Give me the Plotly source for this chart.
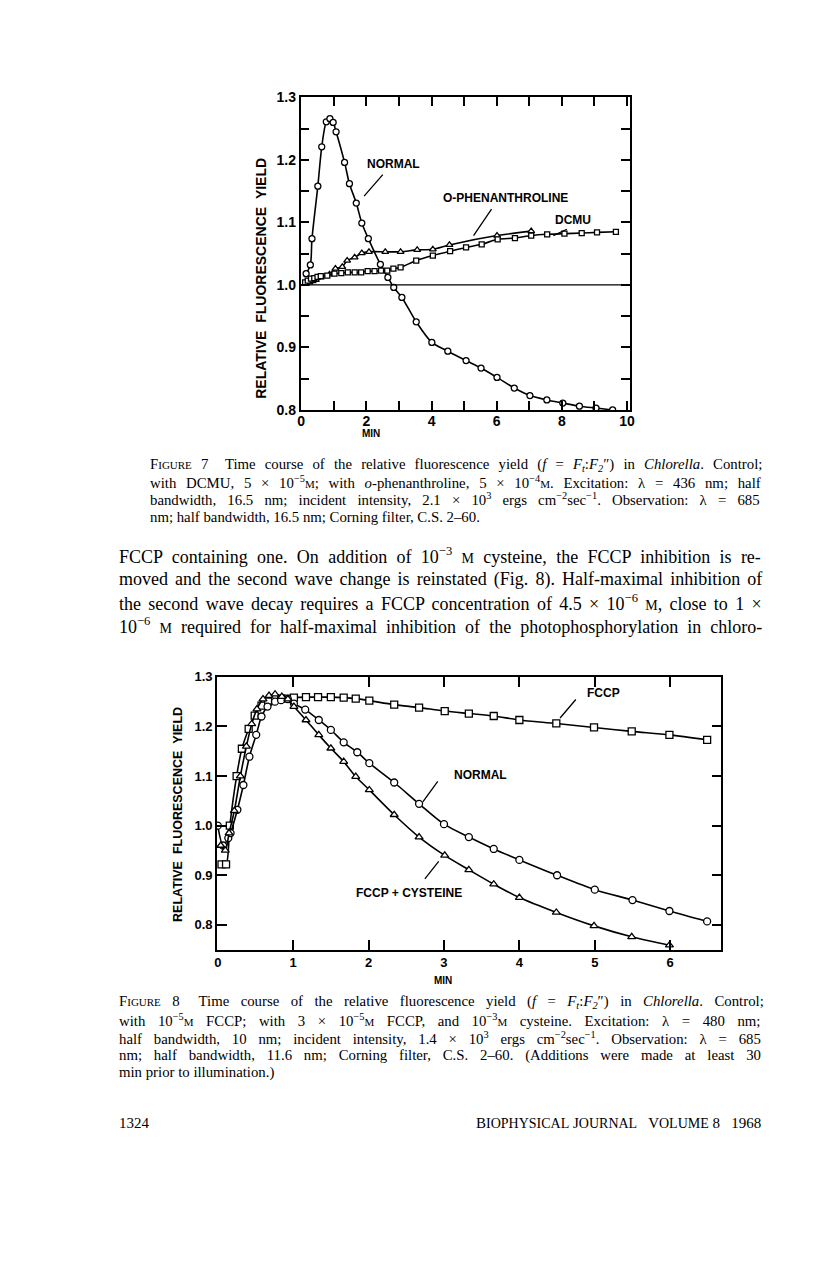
import re
import math
import plotly.graph_objects as go

# ---------------- Figure 7 data (time in min, relative fluorescence yield) ----------------
f7_normal_x = [0.15, 0.28, 0.33, 0.51, 0.63, 0.77, 0.88, 0.98, 1.07, 1.33, 1.48, 1.69, 1.86, 2.06,
               2.43, 2.66, 2.84, 3.09, 3.53, 4.01, 4.50, 5.06, 5.52, 6.01, 6.54, 7.02, 7.54, 8.03,
               8.54, 9.05, 9.56]
f7_normal_y = [1.018, 1.032, 1.074, 1.158, 1.221, 1.261, 1.266, 1.260, 1.245, 1.196, 1.162, 1.131,
               1.099, 1.074, 1.033, 1.012, 0.996, 0.980, 0.941, 0.908, 0.894, 0.879, 0.867, 0.852,
               0.835, 0.823, 0.816, 0.811, 0.806, 0.803, 0.800]

f7_phen_x = [0.15, 0.25, 0.35, 0.45, 0.60, 0.87, 1.05, 1.26, 1.41, 1.64, 1.86, 2.08, 2.58, 3.05,
             3.56, 4.04, 4.55, 6.01, 7.06]
f7_phen_y = [1.002, 1.004, 1.006, 1.008, 1.012, 1.017, 1.026, 1.029, 1.039, 1.044, 1.051, 1.053,
             1.053, 1.053, 1.056, 1.057, 1.064, 1.079, 1.086]

f7_dcmu_x = [0.12, 0.20, 0.30, 0.40, 0.50, 0.60, 0.80, 1.02, 1.23, 1.43, 1.64, 1.84, 2.04, 2.25,
             2.45, 2.64, 2.83, 3.05, 3.53, 4.04, 4.57, 5.06, 5.54, 6.03, 6.56, 7.06, 7.55, 8.08,
             8.61, 9.08, 9.66]
f7_dcmu_y = [1.004, 1.007, 1.010, 1.011, 1.013, 1.014, 1.015, 1.018, 1.019, 1.020, 1.020, 1.020,
             1.022, 1.022, 1.023, 1.023, 1.026, 1.028, 1.039, 1.047, 1.054, 1.060, 1.065, 1.073,
             1.075, 1.079, 1.081, 1.082, 1.083, 1.084, 1.085]

f7_xticks = [0, 1, 2, 3, 4, 5, 6, 7, 8, 9, 10]
f7_xticktext = ["0", "", "2", "", "4", "", "6", "", "8", "", "10"]
f7_yticks = [0.80, 0.85, 0.90, 0.95, 1.00, 1.05, 1.10, 1.15, 1.20, 1.25, 1.30]
f7_yticktext = ["0.8", "", "0.9", "", "1.0", "", "1.1", "", "1.2", "", "1.3"]

# ---------------- Figure 8 data ----------------
f8_fccp_x = [0.05, 0.11, 0.16, 0.25, 0.32, 0.41, 0.49, 0.58, 0.67, 0.76, 0.84, 0.93, 1.01, 1.17,
             1.33, 1.50, 1.67, 1.83, 2.01, 2.34, 2.67, 3.01, 3.33, 3.66, 4.00, 4.49, 4.99, 5.49,
             5.99, 6.49]
f8_fccp_y = [0.922, 0.922, 1.000, 1.100, 1.155, 1.195, 1.222, 1.242, 1.250, 1.256, 1.256, 1.256,
             1.258, 1.259, 1.259, 1.259, 1.258, 1.256, 1.252, 1.244, 1.238, 1.231, 1.226, 1.221,
             1.213, 1.206, 1.198, 1.190, 1.183, 1.173]

f8_normal_x = [0.00, 0.07, 0.14, 0.17, 0.26, 0.34, 0.42, 0.51, 0.58, 0.66, 0.76, 0.84, 0.93, 1.01,
               1.16, 1.34, 1.50, 1.67, 1.85, 2.01, 2.34, 2.67, 3.00, 3.33, 3.66, 4.00, 4.50, 5.00,
               5.50, 5.99, 6.49]
f8_normal_y = [1.000, 0.960, 0.975, 0.985, 1.032, 1.082, 1.139, 1.183, 1.220, 1.240, 1.250, 1.253,
               1.255, 1.246, 1.234, 1.213, 1.193, 1.168, 1.148, 1.126, 1.087, 1.044, 1.003, 0.977,
               0.953, 0.931, 0.900, 0.871, 0.850, 0.828, 0.807]

f8_cys_x = [0.04, 0.10, 0.15, 0.22, 0.30, 0.38, 0.45, 0.52, 0.60, 0.68, 0.76, 0.85, 0.93, 1.01,
            1.17, 1.34, 1.50, 1.67, 1.83, 2.01, 2.34, 2.67, 3.01, 3.33, 3.66, 4.00, 4.49, 4.99,
            5.49, 5.99]
f8_cys_y = [0.960, 0.950, 0.985, 1.030, 1.100, 1.160, 1.205, 1.235, 1.255, 1.262, 1.265, 1.260,
            1.255, 1.240, 1.213, 1.183, 1.156, 1.129, 1.099, 1.072, 1.022, 0.977, 0.940, 0.911,
            0.882, 0.855, 0.825, 0.798, 0.776, 0.759]

f8_xticks = [0, 1, 2, 3, 4, 5, 6]
f8_yticks = [0.8, 0.9, 1.0, 1.1, 1.2, 1.3]
f8_yticktext = ["0.8", "0.9", "1.0", "1.1", "1.2", "1.3"]

# ---------------- Text ----------------
CAP = 14.8    # caption font size
BODY = 18.0   # body font size
SM = '<span style="font-size:11px">'
SMB = '<span style="font-size:14px">'
cap7 = [
    f'F{SM}IGURE</span> 7&nbsp;&nbsp; Time course of the relative fluorescence yield (<i>f</i> = <i>F<sub>t</sub></i>:<i>F<sub>2</sub></i>″) in <i>Chlorella</i>. Control;',
    f'with DCMU, 5 × 10<sup>−5</sup>{SM}M</span>; with <i>o</i>-phenanthroline, 5 × 10<sup>−4</sup>{SM}M</span>. Excitation: λ = 436 nm; half',
    'bandwidth, 16.5 nm; incident intensity, 2.1 × 10<sup>3</sup> ergs cm<sup>−2</sup>sec<sup>−1</sup>. Observation: λ = 685',
    'nm; half bandwidth, 16.5 nm; Corning filter, C.S. 2–60.',
]
body = [
    f'FCCP containing one. On addition of 10<sup>−3</sup> {SMB}M</span> cysteine, the FCCP inhibition is re-',
    'moved and the second wave change is reinstated (Fig. 8). Half-maximal inhibition of',
    f'the second wave decay requires a FCCP concentration of 4.5 × 10<sup>−6</sup> {SMB}M</span>, close to 1 ×',
    f'10<sup>−6</sup> {SMB}M</span> required for half-maximal inhibition of the photophosphorylation in chloro-',
]
cap8 = [
    f'F{SM}IGURE</span> 8&nbsp;&nbsp; Time course of the relative fluorescence yield (<i>f</i> = <i>F<sub>t</sub></i>:<i>F<sub>2</sub></i>″) in <i>Chlorella</i>. Control;',
    f'with 10<sup>−5</sup>{SM}M</span> FCCP; with 3 × 10<sup>−5</sup>{SM}M</span> FCCP, and 10<sup>−3</sup>{SM}M</span> cysteine. Excitation: λ = 480 nm;',
    'half bandwidth, 10 nm; incident intensity, 1.4 × 10<sup>3</sup> ergs cm<sup>−2</sup>sec<sup>−1</sup>. Observation: λ = 685',
    'nm; half bandwidth, 11.6 nm; Corning filter, C.S. 2–60. (Additions were made at least 30',
    'min prior to illumination.)',
]
footer_left = '1324'
footer_right = f'B{SMB}IOPHYSICAL</span> J{SMB}OURNAL</span>&nbsp;&nbsp; V{SMB}OLUME</span> 8&nbsp;&nbsp; 1968'

# Page-pixel mapping (page body margin plus a small overall screenshot scale).
W, H = 800, 1252
OFF = 8
S = 0.995
def px(x): return (x / S - OFF) / W
def py(y): return 1 - (y / S - OFF) / H

SANS = "Liberation Sans"
SERIF = "Liberation Serif"

# ---- Times metrics (per 1000 em) used to justify the serif lines ----
_TW = {' ': 250, '!': 333, '"': 408, '(': 333, ')': 333, '+': 564, ',': 250, '-': 333, '.': 250,
       '/': 278, ':': 278, ';': 278, '=': 564, '?': 444, '×': 564, '−': 564, '–': 500, '″': 420,
       'λ': 500, '\u00a0': 250,
       'A': 722, 'B': 667, 'C': 667, 'D': 722, 'E': 611, 'F': 556, 'G': 722, 'H': 722, 'I': 333,
       'J': 389, 'K': 722, 'L': 611, 'M': 889, 'N': 722, 'O': 722, 'P': 556, 'Q': 722, 'R': 667,
       'S': 556, 'T': 611, 'U': 722, 'V': 722, 'W': 944, 'X': 722, 'Y': 722, 'Z': 611,
       'a': 444, 'b': 500, 'c': 444, 'd': 500, 'e': 444, 'f': 333, 'g': 500, 'h': 500, 'i': 278,
       'j': 278, 'k': 500, 'l': 278, 'm': 778, 'n': 500, 'o': 500, 'p': 500, 'q': 500, 'r': 333,
       's': 389, 't': 278, 'u': 500, 'v': 500, 'w': 722, 'x': 500, 'y': 500, 'z': 444}
for d in '0123456789':
    _TW[d] = 500

def text_width(markup, size):
    w = 0.0
    scale = [1.0]
    for tok in re.split(r'(<[^>]+>|&nbsp;)', markup):
        if not tok:
            continue
        if tok == '&nbsp;':
            w += 0.25 * size * scale[-1]
            continue
        if tok.startswith('<'):
            t = tok.lower()
            if t in ('<sup>', '<sub>'):
                scale.append(scale[-1] * 0.7)
            elif t.startswith('<span'):
                m = re.search(r'font-size:\s*([\d.]+)px', t)
                scale.append(float(m.group(1)) / size if m else scale[-1])
            elif t in ('</sup>', '</sub>', '</span>'):
                scale.pop()
            continue
        for ch in tok:
            w += _TW.get(ch, 500) / 1000.0 * size * scale[-1]
    return w

def justify(line, size, width_px):
    words = re.split(r' (?![^<]*>)', line)
    gaps = len(words) - 1
    nat = text_width(line, size)
    extra = (width_px / S - nat)
    if gaps <= 0 or extra <= 0:
        return line
    e = extra / gaps
    k = max(1, math.ceil(e / (0.25 * size * 0.95)))
    fs = e / (0.25 * k)
    pad = f'<span style="font-size:{fs:.2f}px">' + '&nbsp;' * k + '</span>'
    return (' ' + pad).join(words)

fig = go.Figure()

line_style = dict(color="black", width=1.6, shape="spline", smoothing=0.8)

def add_series(x, y, symbol, size, xa, ya):
    fig.add_trace(go.Scatter(x=x, y=y, mode="lines+markers", xaxis=xa, yaxis=ya,
                             line=line_style,
                             marker=dict(symbol=symbol, size=size, color="white",
                                         line=dict(color="black", width=1.3)),
                             showlegend=False, cliponaxis=True))

add_series(f7_normal_x, f7_normal_y, "circle", 6, "x", "y")
add_series(f7_phen_x, f7_phen_y, "triangle-up", 6, "x", "y")
add_series(f7_dcmu_x, f7_dcmu_y, "square", 5, "x", "y")

add_series(f8_fccp_x, f8_fccp_y, "square", 7, "x2", "y2")
add_series(f8_normal_x, f8_normal_y, "circle", 7, "x2", "y2")
add_series(f8_cys_x, f8_cys_y, "triangle-up", 7, "x2", "y2")

axis_common = dict(showline=True, linecolor="black", linewidth=1.6, mirror="ticks",
                   ticks="inside", tickcolor="black", tickwidth=1.6, showgrid=False,
                   zeroline=False)

fig.update_layout(
    width=W, height=H, margin=dict(l=0, r=0, t=0, b=0),
    paper_bgcolor="white", plot_bgcolor="white",
    xaxis=dict(domain=[px(299), px(630)], range=[-0.02, 10.09], anchor="y",
               tickvals=f7_xticks, ticktext=f7_xticktext, ticklen=9, ticklabelstandoff=-3,
               tickfont=dict(family=SANS, size=14, color="black", weight="bold"),
               **axis_common),
    yaxis=dict(domain=[py(405), py(90)], range=[0.8, 1.3], anchor="x",
               tickvals=f7_yticks, ticktext=f7_yticktext, ticklen=9,
               tickfont=dict(family=SANS, size=14, color="black", weight="bold"),
               **axis_common),
    xaxis2=dict(domain=[px(215), px(722)], range=[-0.01, 6.68], anchor="y2",
                tickvals=f8_xticks, ticktext=[str(v) for v in f8_xticks], ticklen=10,
                tickfont=dict(family=SANS, size=13, color="black", weight="bold"),
                **axis_common),
    yaxis2=dict(domain=[py(949), py(674)], range=[0.75, 1.3], anchor="x2",
                tickvals=f8_yticks, ticktext=f8_yticktext, ticklen=10,
                tickfont=dict(family=SANS, size=13, color="black", weight="bold"),
                **axis_common),
)

# baseline at 1.0 in figure 7
fig.add_shape(type="line", xref="x domain", yref="y", x0=0, x1=1, y0=1.0, y1=1.0,
              line=dict(color="black", width=1.3))

# ---------------- Curve labels and leader lines ----------------
def label(text, x, y, xr, yr, size=12):
    fig.add_annotation(text=f"<b>{text}</b>", x=x, y=y, xref=xr, yref=yr, showarrow=False,
                       font=dict(family=SANS, size=size, color="black"))

def leader(x, y, ax, ay, xr, yr):
    fig.add_annotation(text="", x=x, y=y, xref=xr, yref=yr, showarrow=True, arrowhead=0,
                       arrowwidth=1.3, arrowcolor="black", ax=ax, ay=ay, standoff=0, startstandoff=0)

label("NORMAL", 2.84, 1.193, "x", "y")
leader(1.93, 1.142, 20, -23, "x", "y")
label("O-PHENANTHROLINE", 6.27, 1.139, "x", "y")
leader(5.29, 1.079, 19, -28, "x", "y")
label("DCMU", 8.35, 1.104, "x", "y")
leader(7.74, 1.079, 15, -7, "x", "y")

label("FCCP", 5.11, 1.267, "x2", "y2")
leader(4.54, 1.217, 17, -20, "x2", "y2")
label("NORMAL", 3.48, 1.103, "x2", "y2")
leader(2.72, 1.048, 16, -22, "x2", "y2")
label("FCCP + CYSTEINE", 2.53, 0.865, "x2", "y2")
leader(2.93, 0.928, -15, 19, "x2", "y2")

# ---------------- Axis titles ----------------
def ptext(text, x, y, size, family=SANS, xanchor="center", angle=0, bold=True):
    t = f"<b>{text}</b>" if bold else text
    fig.add_annotation(text=t, x=px(x), y=py(y), xref="paper", yref="paper", showarrow=False,
                       xanchor=xanchor, yanchor="middle", textangle=angle,
                       font=dict(family=family, size=size, color="black"))

ptext("RELATIVE&nbsp;&nbsp;FLUORESCENCE&nbsp;&nbsp;YIELD", 259, 272, 14, angle=-90)
ptext("MIN", 370, 429, 10)
ptext("RELATIVE&nbsp;&nbsp;FLUORESCENCE&nbsp;&nbsp;YIELD", 176, 813, 12.5, angle=-90)
ptext("MIN", 442, 980, 10)

# ---------------- Captions and body text ----------------
for i, t in enumerate(cap7):
    tt = justify(t, CAP, 612 - 4) if i < len(cap7) - 1 else t
    ptext(tt, 146, 460 + 17.6 * i, CAP, family=SERIF, xanchor="left", bold=False)
for i, t in enumerate(body):
    ptext(justify(t, BODY, 644 - 4), 114, 552 + 23.4 * i, BODY, family=SERIF, xanchor="left", bold=False)
for i, t in enumerate(cap8):
    tt = justify(t, CAP, 644 - 4) if i < len(cap8) - 1 else t
    ptext(tt, 114, 1002 + 17.8 * i, CAP, family=SERIF, xanchor="left", bold=False)
ptext(footer_left, 114, 1124, 15, family=SERIF, xanchor="left", bold=False)
ptext(footer_right, 764, 1124, 15, family=SERIF, xanchor="right", bold=False)

fig.write_html("out.html")
